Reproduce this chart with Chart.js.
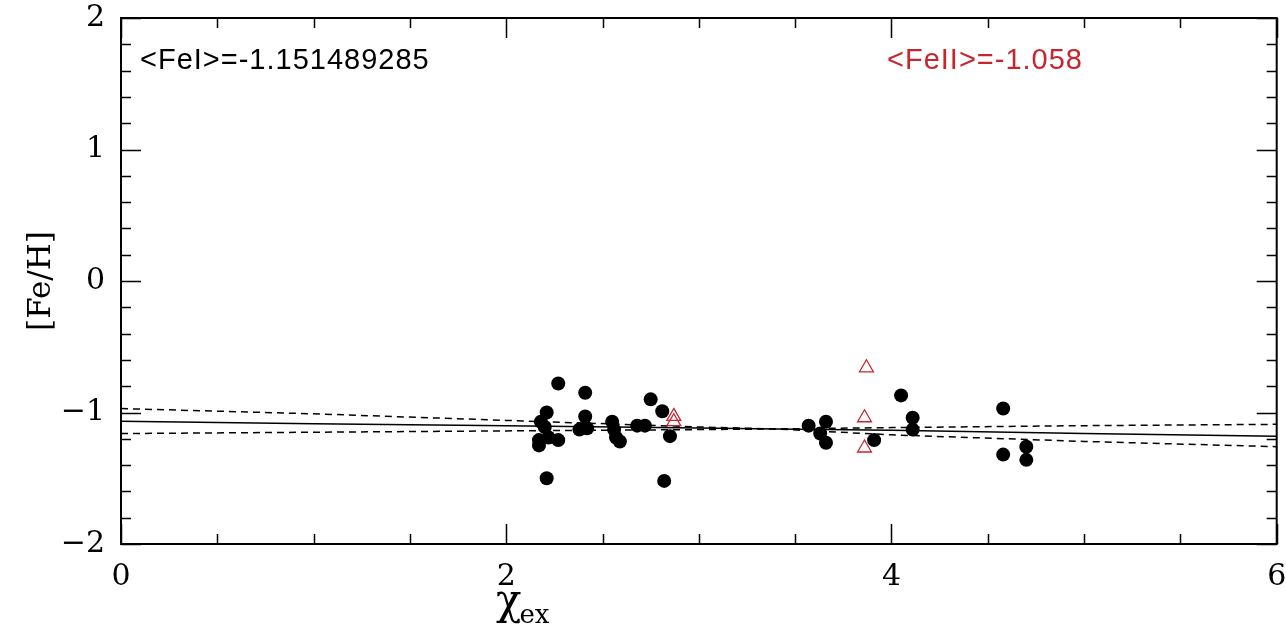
<!DOCTYPE html>
<html><head><meta charset="utf-8">
<script src="https://cdn.jsdelivr.net/npm/chart.js@4"></script>
<style>html,body{margin:0;padding:0;background:#fff;overflow:hidden;}</style>
</head><body>
<canvas id="c" width="1286" height="638"></canvas>
<script>
// ---- data ----
const feI_x = [2.21, 2.18, 2.20, 2.17, 2.17, 2.22, 2.27, 2.21, 2.27, 2.41, 2.41, 2.38, 2.42,
               2.55, 2.56, 2.57, 2.59, 2.68, 2.72, 2.75, 2.81, 2.85, 2.82,
               3.57, 3.66, 3.63, 3.66, 3.91, 4.05, 4.11, 4.11, 4.58, 4.58, 4.70, 4.70];
const feI_y = [-1.00, -1.07, -1.11, -1.21, -1.25, -1.19, -1.21, -1.50, -0.78, -0.85, -1.03, -1.13, -1.12,
               -1.07, -1.13, -1.19, -1.22, -1.10, -1.10, -0.90, -0.99, -1.18, -1.52,
               -1.10, -1.07, -1.16, -1.23, -1.21, -0.87, -1.04, -1.13, -0.97, -1.32, -1.26, -1.36];
const feII_x = [2.87, 2.87, 3.87, 3.86, 3.86];
const feII_y = [-1.03, -1.07, -0.66, -1.04, -1.27];
const fitX      = [0, 1, 2, 3, 3.4, 4, 5, 6];
const fitY      = [-1.067, -1.085, -1.100, -1.117, -1.125, -1.135, -1.160, -1.180];
const bandUpper = [-0.970, -1.010, -1.060, -1.110, -1.125, -1.115, -1.100, -1.090];
const bandLower = [-1.160, -1.150, -1.140, -1.130, -1.125, -1.170, -1.220, -1.260];
const xTickLabels = [0, 2, 4, 6];
const yTickLabels = [-2, -1, 0, 1, 2];
const xMinorStep = 0.5;
const yMinorStep = 0.2;
const meanFeIText = "<FeI>=-1.151489285";
const meanFeIIText = "<FeII>=-1.058";
const yTitle = "[Fe/H]";
const xTitleMain = "\u03c7";
const xTitleSub = "ex";

const RED = '#c8262e';
const pts = (xs, ys) => xs.map((x, i) => ({x: x, y: ys[i]}));

const framePlugin = {
  id: 'frame',
  afterDraw(chart) {
    const ctx = chart.ctx, a = chart.chartArea;
    const xs = chart.scales.x, ys = chart.scales.y;
    ctx.save();
    ctx.strokeStyle = '#000';
    ctx.lineWidth = 1.5;
    ctx.beginPath();
    for (let v = xs.min; v <= xs.max + 1e-9; v += xMinorStep) {
      const px = Math.round(xs.getPixelForValue(v)) + 0.5;
      const major = xTickLabels.some(t => Math.abs(t - v) < 1e-6);
      const L = major ? 20 : 10;
      ctx.moveTo(px, a.bottom); ctx.lineTo(px, a.bottom - L);
      ctx.moveTo(px, a.top); ctx.lineTo(px, a.top + L);
    }
    for (let v = ys.min; v <= ys.max + 1e-9; v += yMinorStep) {
      const py = Math.round(ys.getPixelForValue(v)) + 0.5;
      const major = yTickLabels.some(t => Math.abs(t - v) < 1e-6);
      const L = major ? 20 : 10;
      ctx.moveTo(a.left, py); ctx.lineTo(a.left + L, py);
      ctx.moveTo(a.right, py); ctx.lineTo(a.right - L, py);
    }
    ctx.stroke();
    ctx.lineWidth = 2;
    ctx.strokeRect(a.left, a.top, a.right - a.left, a.bottom - a.top);
    // annotations
    ctx.font = '29px "Liberation Sans", Arial, sans-serif';
    try { ctx.letterSpacing = '1px'; } catch (e) {}
    ctx.textBaseline = 'alphabetic';
    ctx.textAlign = 'left';
    ctx.fillStyle = '#000';
    ctx.fillText(meanFeIText, 140, 69);
    ctx.fillStyle = RED;
    ctx.fillText(meanFeIIText, 887, 69);
    try { ctx.letterSpacing = '0px'; } catch (e) {}
    // y title
    ctx.fillStyle = '#000';
    ctx.font = '31px "DejaVu Serif", serif';
    ctx.save();
    ctx.translate(42, (a.top + a.bottom) / 2);
    ctx.rotate(-Math.PI / 2);
    ctx.textAlign = 'center';
    ctx.textBaseline = 'middle';
    ctx.fillText(yTitle, 0, 0);
    ctx.restore();
    // x title
    ctx.textAlign = 'left';
    ctx.textBaseline = 'alphabetic';
    ctx.font = '42px "DejaVu Serif", serif';
    ctx.fillText(xTitleMain, 496, 614);
    const w = ctx.measureText(xTitleMain).width;
    ctx.font = '26px "DejaVu Serif", serif';
    ctx.fillText(xTitleSub, 496 + w - 2, 623);
    ctx.restore();
  }
};

new Chart(document.getElementById('c'), {
  type: 'scatter',
  data: {
    datasets: [
      { label: 'FeI', data: pts(feI_x, feI_y), pointStyle: 'circle', pointRadius: 7,
        backgroundColor: '#000', borderColor: '#000', borderWidth: 0 },
      { label: 'FeII', data: pts(feII_x, feII_y), pointStyle: 'triangle', pointRadius: 8,
        backgroundColor: 'rgba(255,255,255,0)', borderColor: RED, borderWidth: 1.3 },
      { label: 'fit', data: pts(fitX, fitY), showLine: true, pointRadius: 0,
        borderColor: '#000', borderWidth: 1.5 },
      { label: 'upper', data: pts(fitX, bandUpper), showLine: true, pointRadius: 0,
        borderColor: '#000', borderWidth: 1.5, borderDash: [7, 5] },
      { label: 'lower', data: pts(fitX, bandLower), showLine: true, pointRadius: 0,
        borderColor: '#000', borderWidth: 1.5, borderDash: [7, 5] }
    ]
  },
  options: {
    responsive: false, animation: false, devicePixelRatio: 1,
    layout: { padding: { left: 0, right: -6, top: 18, bottom: 0 } },
    plugins: { legend: { display: false }, tooltip: { enabled: false }, title: { display: false } },
    scales: {
      x: {
        type: 'linear', min: 0, max: 6,
        afterBuildTicks: s => { s.ticks = xTickLabels.map(v => ({ value: v })); },
        afterFit: s => { s.height = 94; s.paddingLeft = 0; s.paddingRight = 0; },
        grid: { display: false }, border: { display: false },
        ticks: { color: '#000', padding: 7, maxRotation: 0, autoSkip: false,
          font: { family: '"DejaVu Serif", serif', size: 30 },
          callback: v => String(v).replace('-', '\u2212') }
      },
      y: {
        type: 'linear', min: -2, max: 2,
        afterBuildTicks: s => { s.ticks = yTickLabels.map(v => ({ value: v })); },
        afterFit: s => { s.width = 121; s.paddingTop = 0; s.paddingBottom = 0; },
        grid: { display: false }, border: { display: false },
        ticks: { color: '#000', padding: 8, autoSkip: false,
          font: { family: '"DejaVu Serif", serif', size: 30 },
          callback: v => String(v).replace('-', '\u2212') }
      }
    }
  },
  plugins: [framePlugin]
});
</script>
</body></html>
